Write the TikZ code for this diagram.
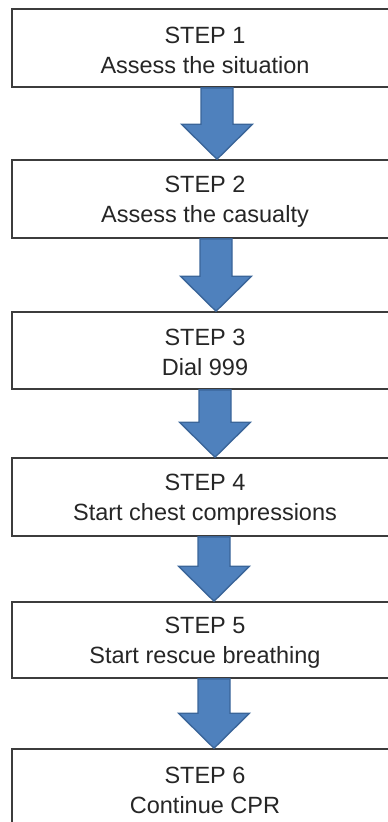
\documentclass[tikz,border=0pt]{standalone}
\usepackage{fontspec}
\setmainfont{Liberation Sans}
\usetikzlibrary{calc}

\definecolor{boxline}{HTML}{3C3C3C}
\definecolor{arrowblue}{HTML}{4F81BD}
\definecolor{arrowedge}{HTML}{3A6599}

% taller first line so the two text lines sit a little lower in each box
\newcommand\steptop{\rule{0pt}{21pt}}

\tikzset{
  stepbox/.style={draw=boxline, line width=1.6pt, fill=white, rectangle,
    minimum width=386pt, align=center, inner sep=0pt,
    font=\fontsize{23.5}{30}\selectfont, text=black!85},
  blockarrow/.style={fill=arrowblue, draw=arrowedge, line width=1.4pt, line join=miter}
}

% Block arrow from the bottom of box #1 to the top of box #2, axis at x = #3
\newcommand\flowarrow[3]{%
  \draw[blockarrow] let \p1=(#1.south), \p2=(#2.north) in
    (#3pt-16pt,\y1) -- (#3pt+16pt,\y1) -- (#3pt+16pt,\y2+35pt) --
    (#3pt+35.5pt,\y2+35pt) -- (#3pt,\y2) -- (#3pt-35.5pt,\y2+35pt) --
    (#3pt-16pt,\y2+35pt) -- cycle;}

\begin{document}
\begin{tikzpicture}[x=1pt,y=-1pt]
  \useasboundingbox (0,0) rectangle (388,822);
  \clip (0,0) rectangle (388,822);

  \node[stepbox, minimum height=78pt] (s1) at (205,48)  {\steptop STEP 1\\Assess the situation};
  \node[stepbox, minimum height=78pt] (s2) at (205,199) {\steptop STEP 2\\Assess the casualty};
  \node[stepbox, minimum height=77pt] (s3) at (205,350.5) {\steptop STEP 3\\Dial 999};
  \node[stepbox, minimum height=78pt] (s4) at (205,497) {\steptop STEP 4\\Start chest compressions};
  \node[stepbox, minimum height=76pt] (s5) at (205,640) {\steptop STEP 5\\Start rescue breathing};
  \node[stepbox, minimum height=78pt] (s6) at (205,788) {\steptop STEP 6\\Continue CPR};

  \flowarrow{s1}{s2}{217}
  \flowarrow{s2}{s3}{216}
  \flowarrow{s3}{s4}{215}
  \flowarrow{s4}{s5}{214}
  \flowarrow{s5}{s6}{214}
\end{tikzpicture}
\end{document}
